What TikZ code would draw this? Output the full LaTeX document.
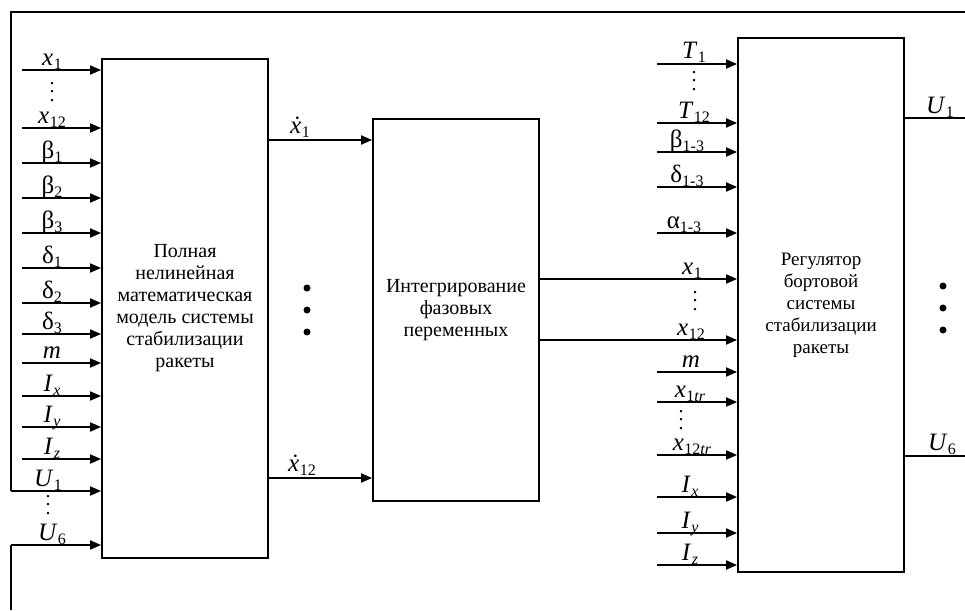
\documentclass[tikz,border=0pt]{standalone}
\usepackage{fontspec}
\setmainfont{Liberation Serif}
\usetikzlibrary{arrows.meta}
\newcommand\vl[2]{\textit{#1}\kern0.5pt\raisebox{-4pt}{\fontsize{16}{16}\selectfont #2}}
\newcommand\gl[2]{#1\raisebox{-4pt}{\fontsize{16}{16}\selectfont #2}}
\newcommand\vdd{\vbox{\baselineskip8.5pt\lineskiplimit0pt\hbox{.}\hbox{.}\hbox{.}}}
\tikzset{
  blk/.style={draw, line width=1.8pt, minimum width=166pt, align=center, inner sep=0pt,
    font=\fontsize{20}{22}\selectfont},
  ln/.style={line width=1.8pt},
  arr/.style={line width=1.8pt, -{Triangle[length=11pt,width=9pt]}},
  lab/.style={anchor=base, inner sep=0pt, font=\fontsize{25}{25}\selectfont},
  vd/.style={inner sep=0pt, font=\fontsize{20}{20}\selectfont},
  bigdot/.style={circle, fill, inner sep=0pt, minimum size=7pt}
}
\begin{document}
\begin{tikzpicture}[x=1pt,y=-1pt]
\useasboundingbox (0,0) rectangle (965,610);
% blocks
\node[blk, minimum height=499pt] (b1) at (185,308.5) {Полная\\нелинейная\\математическая\\модель системы\\стабилизации\\ракеты};
\node[blk, minimum height=382pt] (b2) at (456,310) {Интегрирование\\фазовых\\переменных};
\node[blk, minimum height=534pt, font=\fontsize{19}{22}\selectfont] (b3) at (821,305) {Регулятор\\бортовой\\системы\\стабилизации\\ракеты};
% left inputs
\foreach \yy/\tx [count=\i] in {70/{\vl{x}{1}}, 128/{\vl{x}{12}}, 163/{\gl{β}{1}}, 198/{\gl{β}{2}}, 233/{\gl{β}{3}},
  268/{\gl{δ}{1}}, 303/{\gl{δ}{2}}, 334/{\gl{δ}{3}}, 363/{\textit{m}}, 396/{\vl{I}{\textit{x}}},
  427/{\vl{I}{\textit{y}}}, 459/{\vl{I}{\textit{z}}}}{
  \coordinate (li\i) at (22,\yy);
  \draw[arr] (li\i) -- (b1.west |- li\i);
  \node[lab] (ll\i) at (52,\yy-5) {\tx};
}
\node[vd] (ld1) at (52,92) {\vdd};
% feedback U1 (top frame)
\coordinate (fr1) at (965,12);
\coordinate (fr2) at (11,12);
\coordinate (fr3) at (11,491);
\draw[ln] (fr1) -- (fr2) -- (fr3);
\draw[arr] (fr3) -- (b1.west |- fr3);
\node[lab] (lu1) at (48,486) {\vl{U}{1}};
\node[vd] (ld2) at (48,505) {\vdd};
% feedback U6 (bottom)
\coordinate (fb1) at (11,610);
\coordinate (fb2) at (11,545);
\draw[ln] (fb1) -- (fb2);
\draw[arr] (fb2) -- (b1.west |- fb2);
\node[lab] (lu6) at (52,540) {\vl{U}{6}};
% b1 -> b2
\coordinate (d1) at (0,140);
\coordinate (d2) at (0,478);
\draw[arr] (b1.east |- d1) -- (b2.west |- d1);
\draw[arr] (b1.east |- d2) -- (b2.west |- d2);
\node[lab] (ldx1) at (300,133) {\vl{\.{x}}{1}};
\node[lab] (ldx2) at (302,471) {\vl{\.{x}}{12}};
\node[bigdot] (bd1) at (307,288) {};
\node[bigdot] (bd2) at (307,310) {};
\node[bigdot] (bd3) at (307,332) {};
% b2 -> b3
\coordinate (e1) at (0,279);
\coordinate (e2) at (0,340);
\draw[arr] (b2.east |- e1) -- (b3.west |- e1);
\draw[arr] (b2.east |- e2) -- (b3.west |- e2);
\node[lab] (lx1) at (692,274) {\vl{x}{1}};
\node[vd] (rd2) at (695,301) {\vdd};
\node[lab] (lx12) at (691,335) {\vl{x}{12}};
% right inputs
\foreach \yy/\xx/\tx [count=\i] in {64/694/{\vl{T}{1}}, 123/694/{\vl{T}{12}}, 152/687/{\gl{β}{1-3}}, 187/687/{\gl{δ}{1-3}},
  233/684/{\gl{α}{1-3}}, 372/691/{\textit{m}}, 402/690/{\vl{x}{1\textit{tr}}}, 455/692/{\vl{x}{12\textit{tr}}},
  497/690/{\vl{I}{\textit{x}}}, 533/690/{\vl{I}{\textit{y}}}, 565/690/{\vl{I}{\textit{z}}}}{
  \coordinate (ri\i) at (657,\yy);
  \draw[arr] (ri\i) -- (b3.west |- ri\i);
  \node[lab] (rl\i) at (\xx,\yy-5) {\tx};
}
\node[vd] (rd1) at (694,81) {\vdd};
\node[vd] (rd3) at (681,420) {\vdd};
% outputs of b3
\coordinate (o1) at (965,118);
\coordinate (o6) at (965,456);
\draw[ln] (b3.east |- o1) -- (o1);
\draw[ln] (b3.east |- o6) -- (o6);
\node[lab] (lo1) at (940,113) {\vl{U}{1}};
\node[lab] (lo6) at (942,450) {\vl{U}{6}};
\node[bigdot] (rb1) at (943,286) {};
\node[bigdot] (rb2) at (943,308) {};
\node[bigdot] (rb3) at (943,330) {};
\end{tikzpicture}
\end{document}
